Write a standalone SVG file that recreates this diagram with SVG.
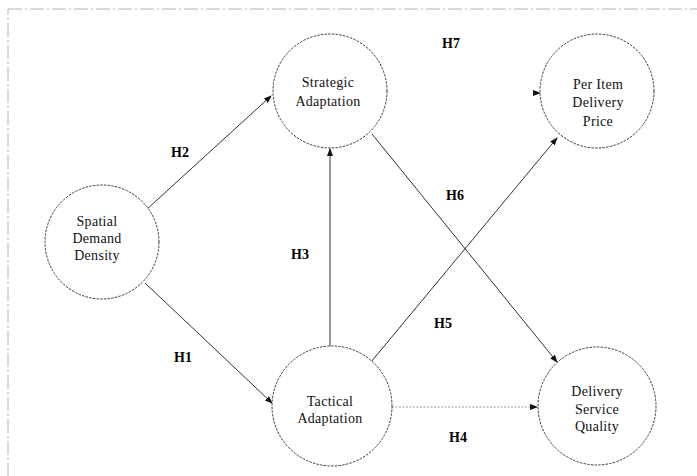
<svg xmlns="http://www.w3.org/2000/svg" width="697" height="476" viewBox="0 0 697 476">
  <style>
    .frame { fill: none; stroke: #b4b4b4; stroke-width: 1; stroke-dasharray: 14 3 2 3; }
    .node circle { fill: #ffffff; stroke: #3a3a3a; stroke-width: 1; stroke-dasharray: 2.5 1.2; }
    .node text { font-family: "Liberation Serif", "Times New Roman", serif; font-size: 14px; fill: #111; text-anchor: middle; letter-spacing: 0.3px; }
    .edge { fill: none; stroke: #333; stroke-width: 1; marker-end: url(#arrow); }
    .edge.dotted { stroke: #999; stroke-dasharray: 2 1.5; }
    .edge.faint { stroke-opacity: 0; }
    .label { font-family: "Liberation Serif", "Times New Roman", serif; font-size: 14px; font-weight: bold; fill: #000; text-anchor: middle; }
  </style>
  <defs>
    <marker id="arrow" markerWidth="8" markerHeight="6" refX="7" refY="3" orient="auto" markerUnits="userSpaceOnUse">
      <path d="M0,0 L8,3 L0,6 z" fill="#111"/>
    </marker>
  </defs>

  <rect width="697" height="476" fill="#ffffff"/>
  <!-- outer frame (right and bottom edges run past the canvas) -->
  <rect class="frame" x="8" y="9" width="700" height="480"/>

  <!-- hypothesis paths -->
  <g id="connectors">
    <line class="edge" x1="146" y1="210" x2="271" y2="96"/>
    <line class="edge" x1="145" y1="283" x2="272" y2="403"/>
    <line class="edge" x1="330" y1="346" x2="330" y2="149"/>
    <line class="edge dotted" x1="392" y1="407" x2="537" y2="407"/>
    <line class="edge" x1="371" y1="362" x2="557" y2="138"/>
    <line class="edge" x1="372" y1="134" x2="557" y2="362"/>
    <!-- H7: only the arrowhead is drawn -->
    <line class="edge faint" x1="388" y1="93" x2="540" y2="93"/>
  </g>

  <g id="node-spatial" class="node">
    <circle cx="102" cy="242" r="57"/>
    <text x="97" y="226">Spatial</text>
    <text x="97" y="243">Demand</text>
    <text x="97" y="260">Density</text>
  </g>

  <g id="node-strategic" class="node">
    <circle cx="330" cy="91" r="57"/>
    <text x="328" y="87">Strategic</text>
    <text x="328" y="106">Adaptation</text>
  </g>

  <g id="node-price" class="node">
    <circle cx="597" cy="91" r="57"/>
    <text x="598" y="89">Per Item</text>
    <text x="598" y="107">Delivery</text>
    <text x="598" y="126">Price</text>
  </g>

  <g id="node-tactical" class="node">
    <circle cx="332" cy="406" r="60"/>
    <text x="330" y="406">Tactical</text>
    <text x="330" y="423">Adaptation</text>
  </g>

  <g id="node-quality" class="node">
    <circle cx="597" cy="406" r="59"/>
    <text x="597" y="396">Delivery</text>
    <text x="597" y="414">Service</text>
    <text x="597" y="431">Quality</text>
  </g>

  <g id="labels">
    <text class="label" x="180" y="157">H2</text>
    <text class="label" x="451" y="48">H7</text>
    <text class="label" x="455" y="200">H6</text>
    <text class="label" x="300" y="259">H3</text>
    <text class="label" x="443" y="328">H5</text>
    <text class="label" x="183" y="362">H1</text>
    <text class="label" x="458" y="442">H4</text>
  </g>
</svg>
